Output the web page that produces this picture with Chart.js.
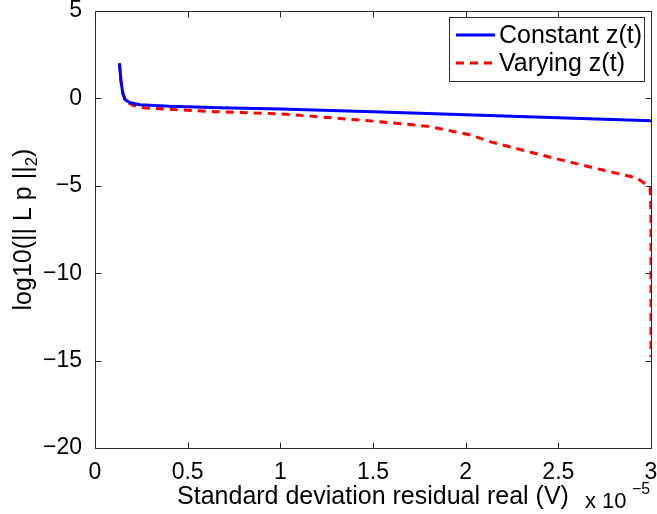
<!DOCTYPE html>
<html>
<head>
<meta charset="utf-8">
<script src="https://cdn.jsdelivr.net/npm/chart.js@4/dist/chart.umd.min.js"></script>
<style>
  html, body { margin: 0; padding: 0; background: #fff; }
  #wrap { width: 657px; height: 514px; }
</style>
</head>
<body>
<div id="wrap"><canvas id="myChart" width="657" height="514"></canvas></div>
<script>
// Residual std (units of 1e-5 V) vs log10 of the norm, two runs
const xConst = [0.132, 0.14, 0.15, 0.162, 0.19, 0.243, 0.4, 0.675, 1.0, 1.5, 2.0, 2.5, 3.0];
const yConst = [2.0, 1.0, 0.3, -0.07, -0.25, -0.36, -0.45, -0.53, -0.6, -0.76, -0.93, -1.1, -1.28];

const xVary = [0.132, 0.14, 0.15, 0.165, 0.205, 0.27, 0.65, 1.0, 1.5, 1.8, 2.02, 2.14, 2.47, 2.74, 2.925, 2.995, 3.0, 3.0];
const yVary = [2.0, 1.0, 0.3, -0.15, -0.40, -0.55, -0.76, -0.88, -1.3, -1.6, -2.08, -2.5, -3.4, -4.1, -4.55, -5.1, -6.5, -14.8];

const xTicks = [0, 0.5, 1, 1.5, 2, 2.5, 3];
const yTicks = [5, 0, -5, -10, -15, -20];

const FONT = "'Liberation Sans', Arial, sans-serif";

function toPoints(xs, ys) {
    return xs.map((x, i) => ({ x: x, y: ys[i] }));
}

function fmt(v) {
    return v < 0 ? '\u2212' + Math.abs(v) : String(v);
}

// frame, inward ticks, legend and the extra labels
const decorations = {
    id: 'decorations',
    afterDraw(chart) {
        const ctx = chart.ctx;
        const a = chart.chartArea;
        const xs = chart.scales.x, ys = chart.scales.y;
        const L = Math.round(a.left) + 0.5, R = Math.round(a.right) + 0.5;
        const T = Math.round(a.top) + 0.5, B = Math.round(a.bottom) + 0.5;
        ctx.save();
        ctx.setLineDash([]);
        ctx.strokeStyle = '#2b2b2b';
        ctx.lineWidth = 1;
        ctx.beginPath();
        ctx.moveTo(L, T); ctx.lineTo(R, T); ctx.lineTo(R, B); ctx.lineTo(L, B); ctx.closePath();
        const t = 6;
        xTicks.forEach(v => {
            const px = Math.round(xs.getPixelForValue(v)) + 0.5;
            ctx.moveTo(px, B); ctx.lineTo(px, B - t);
            ctx.moveTo(px, T); ctx.lineTo(px, T + t);
        });
        yTicks.forEach(v => {
            const py = Math.round(ys.getPixelForValue(v)) + 0.5;
            ctx.moveTo(L, py); ctx.lineTo(L + t, py);
            ctx.moveTo(R, py); ctx.lineTo(R - t, py);
        });
        ctx.stroke();

        // y axis title with subscript
        ctx.fillStyle = '#000';
        ctx.translate(31, (a.top + a.bottom) / 2);
        ctx.rotate(-Math.PI / 2);
        ctx.font = '25px ' + FONT;
        const main = 'log10(|| L p ||';
        const w1 = ctx.measureText(main).width;
        ctx.font = '17px ' + FONT;
        const w2 = ctx.measureText('2').width;
        ctx.font = '25px ' + FONT;
        const w3 = ctx.measureText(')').width;
        let x0 = -(w1 + w2 + w3) / 2;
        ctx.textBaseline = 'alphabetic';
        ctx.textAlign = 'left';
        ctx.fillText(main, x0, 0);
        ctx.font = '17px ' + FONT;
        ctx.fillText('2', x0 + w1, 6);
        ctx.font = '25px ' + FONT;
        ctx.fillText(')', x0 + w1 + w2, 0);
        ctx.setTransform(1, 0, 0, 1, 0, 0);

        // exponent note under the x axis
        ctx.font = '22px ' + FONT;
        ctx.fillText('x 10', 585, 508);
        ctx.font = '16px ' + FONT;
        ctx.fillText('\u22125', 632, 494);

        // legend box
        const lx = 449.5, ly = 17.5, lw = 195, lh = 64;
        ctx.fillStyle = '#fff';
        ctx.fillRect(lx, ly, lw, lh);
        ctx.strokeStyle = '#2b2b2b';
        ctx.lineWidth = 1;
        ctx.strokeRect(lx, ly, lw, lh);
        chart.data.datasets.forEach((ds, i) => {
            const yy = 35 + i * 28;
            ctx.strokeStyle = ds.borderColor;
            ctx.lineWidth = 3;
            ctx.setLineDash(ds.borderDash || []);
            ctx.beginPath();
            ctx.moveTo(456, yy); ctx.lineTo(495, yy);
            ctx.stroke();
            ctx.setLineDash([]);
            ctx.fillStyle = '#000';
            ctx.font = '25px ' + FONT;
            ctx.textBaseline = 'middle';
            ctx.fillText(ds.label, 499, yy + 1);
        });
        ctx.restore();
    }
};

const ctx = document.getElementById('myChart').getContext('2d');
const myChart = new Chart(ctx, {
    type: 'scatter',
    data: {
        datasets: [{
            label: 'Constant z(t)',
            data: toPoints(xConst, yConst),
            borderColor: '#0000ff',
            borderWidth: 3,
            showLine: true,
            pointRadius: 0,
            tension: 0
        }, {
            label: 'Varying z(t)',
            data: toPoints(xVary, yVary),
            borderColor: '#ff0000',
            borderWidth: 3,
            borderDash: [8, 6],
            showLine: true,
            pointRadius: 0,
            tension: 0
        }]
    },
    options: {
        responsive: false,
        animation: false,
        events: [],
        layout: { padding: { left: 0, right: 6, top: 11, bottom: 0 } },
        plugins: { legend: { display: false }, tooltip: { enabled: false } },
        scales: {
            x: {
                type: 'linear',
                min: 0, max: 3,
                afterBuildTicks: s => { s.ticks = xTicks.map(v => ({ value: v })); },
                afterFit: s => { s.height = 66; s.paddingLeft = 0; s.paddingRight = 0; },
                grid: { display: false },
                border: { display: false },
                ticks: {
                    color: '#000',
                    font: { family: FONT, size: 23 },
                    padding: 3,
                    maxRotation: 0,
                    callback: v => fmt(v)
                },
                title: {
                    display: true,
                    text: 'Standard deviation residual real (V)',
                    color: '#000',
                    font: { family: FONT, size: 25 },
                    padding: { top: 0, bottom: 2 }
                }
            },
            y: {
                type: 'linear',
                min: -20, max: 5,
                afterBuildTicks: s => { s.ticks = yTicks.map(v => ({ value: v })); },
                afterFit: s => { s.width = 95; s.paddingTop = 0; s.paddingBottom = 0; },
                grid: { display: false },
                border: { display: false },
                ticks: {
                    color: '#000',
                    font: { family: FONT, size: 23 },
                    padding: 5,
                    callback: v => fmt(v)
                }
            }
        }
    },
    plugins: [decorations]
});
</script>
</body>
</html>
